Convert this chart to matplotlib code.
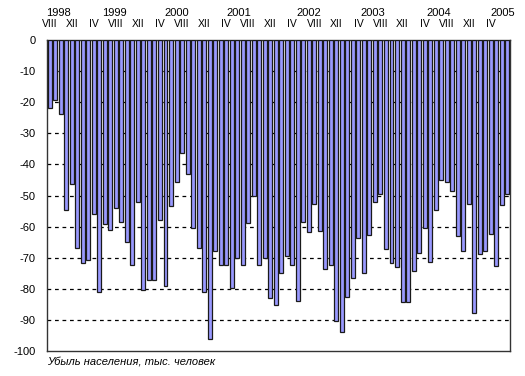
import matplotlib
matplotlib.use("Agg")
import matplotlib.pyplot as plt
import matplotlib.transforms as mtransforms

plt.rcParams['font.family'] = ['Liberation Sans', 'DejaVu Sans']

# Monthly natural population decline, Aug 1998 - Jul 2005 (thousand people)
values = [
    -21.9, -19.3, -23.8, -54.6, -46.4, -67.0, -71.8, -70.8, -56.0, -81.1,
    -59.2, -61.2, -54.1, -58.6, -65.0, -72.3, -52.1, -80.5, -77.1, -77.1,
    -57.8, -79.1, -53.4, -45.6, -36.3, -43.1, -60.5, -67.0, -81.1, -96.2,
    -67.9, -72.3, -72.3, -79.8, -70.2, -72.3, -58.9, -50.0, -72.3, -70.0,
    -83.0, -85.2, -75.0, -69.5, -72.3, -83.9, -58.6, -61.8, -52.8, -61.5,
    -73.7, -72.3, -90.3, -93.9, -82.7, -76.6, -63.7, -75.0, -62.8, -52.1,
    -49.6, -67.3, -71.8, -73.1, -84.3, -84.3, -74.4, -68.6, -60.5, -71.5,
    -54.7, -45.1, -45.7, -48.6, -63.1, -67.9, -52.8, -87.8, -68.9, -67.9,
    -62.4, -72.7, -53.1, -49.6,
]
month_labels = ["VIII", "XII", "IV"]
year_labels = ["1998", "1999", "2000", "2001", "2002", "2003", "2004", "2005"]
# approximate horizontal positions of year captions (in bar index units)
year_pos = [1.6, 11.8, 23.1, 34.3, 47.0, 58.6, 70.6, 82.1]
yticks = list(range(0, -101, -10))
ylabel_text = "Убыль населения, тыс. человек"

fig = plt.figure(figsize=(5.25, 3.76), dpi=100)
ax = fig.add_axes([47/525, 1-351/376, 463/525, 311/376])

x = list(range(len(values)))
ax.bar(x, values, width=0.72, color="#9999FF", edgecolor="#1a1a1a",
       linewidth=0.9, zorder=3)

ax.set_xlim(-0.5, len(values) - 0.5)
ax.set_ylim(-100, 0)
ax.set_yticks(yticks)
ax.set_yticklabels([str(v) for v in yticks], fontsize=8)
ax.tick_params(axis='y', length=0, pad=8)
ax.set_xticks([])

for v in yticks[1:-1]:
    ax.axhline(v, color="black", linestyle=(0, (3, 3)), linewidth=0.9, zorder=1)

for s in ax.spines.values():
    s.set_color("#333333")
    s.set_linewidth(1.0)

trans = mtransforms.blended_transform_factory(ax.transData, ax.transAxes)
for i in range(0, len(values), 4):
    ax.text(i, 1.053, month_labels[(i // 4) % 3], transform=trans,
            ha='center', va='center', fontsize=7.5)
for yp, yl in zip(year_pos, year_labels):
    ax.text(yp, 1.087, yl, transform=trans, ha='center', va='center',
            fontsize=8)

fig.text(47/525, 1-362/376, ylabel_text, fontsize=8, style='italic',
         ha='left', va='center')

fig.savefig("out.png", dpi=100)
